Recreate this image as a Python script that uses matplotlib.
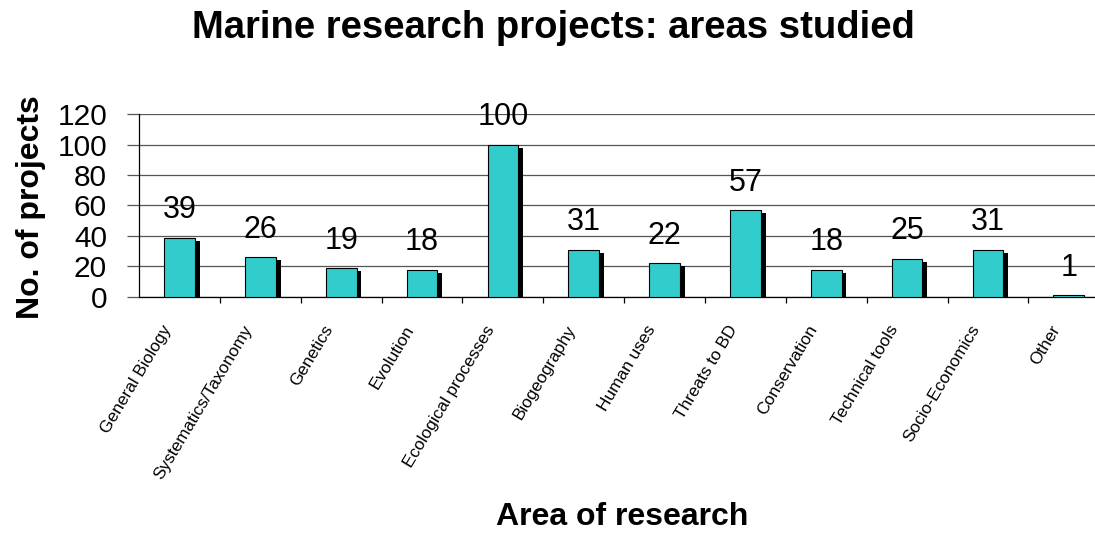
import numpy as np
import matplotlib
matplotlib.use("Agg")
import matplotlib.pyplot as plt
from matplotlib.transforms import ScaledTranslation

plt.rcParams['font.family'] = ['Liberation Sans', 'DejaVu Sans']

areas = ["General Biology", "Systematics/Taxonomy", "Genetics", "Evolution",
         "Ecological processes", "Biogeography", "Human uses", "Threats to BD",
         "Conservation", "Technical tools", "Socio-Economics", "Other"]
projects = [39, 26, 19, 18, 100, 31, 22, 57, 18, 25, 31, 1]
yticks = [0, 20, 40, 60, 80, 100, 120]

fig = plt.figure(figsize=(10.95, 5.33), dpi=100)
# axis runs a little past the right edge of the figure
ax = fig.add_axes([0.127, 0.4428, 0.886, 0.3433])

x = np.arange(len(areas))
w = 0.38

# drop shadow behind each bar
shadow = [max(v - 2, 0) for v in projects]
ax.bar(x + 0.06, shadow, width=w, color="black", zorder=2)
ax.bar(x, projects, width=w, color="#33CCCC", edgecolor="black",
       linewidth=0.8, zorder=3)

for xi, v in zip(x, projects):
    ax.annotate(str(v), (xi, v), xytext=(0, 9), textcoords="offset points",
                ha="center", va="bottom", fontsize=22, zorder=4)

ax.set_xlim(-0.5, len(areas) - 0.5)
ax.set_ylim(0, 120)
ax.set_yticks(yticks)
ax.yaxis.grid(True, color="#555555", linewidth=0.9, zorder=0)
ax.set_axisbelow(True)
ax.tick_params(axis="y", labelsize=21.5, length=9, width=0.9, color="#555555", pad=14)

# tick marks sit between categories, labels under each bar
ax.set_xticks(x + 0.5, minor=False)
ax.set_xticklabels([])
ax.tick_params(axis="x", length=4, width=0.9)
ax.set_xticks(x, minor=True)
ax.set_xticklabels(areas, minor=True, rotation=59, ha="right", va="bottom",
                   rotation_mode="anchor", fontsize=12.4)
ax.tick_params(axis="x", which="minor", length=0, pad=24)
shift = ScaledTranslation(-4 / 72, 0, fig.dpi_scale_trans)
for lab in ax.get_xticklabels(minor=True):
    lab.set_transform(lab.get_transform() + shift)

for s in ["top", "right"]:
    ax.spines[s].set_visible(False)
ax.spines["left"].set_linewidth(0.9)
ax.spines["bottom"].set_linewidth(0.9)

fig.text(0.505, 0.947, "Marine research projects: areas studied",
         ha="center", va="center", fontsize=27.5, fontweight="bold")
fig.text(0.028, 0.612, "No. of projects", rotation=90, ha="center",
         va="center", fontsize=23, fontweight="bold")
fig.text(0.568, 0.03, "Area of research", ha="center", va="center",
         fontsize=23, fontweight="bold")

fig.savefig("out.png", dpi=100)
